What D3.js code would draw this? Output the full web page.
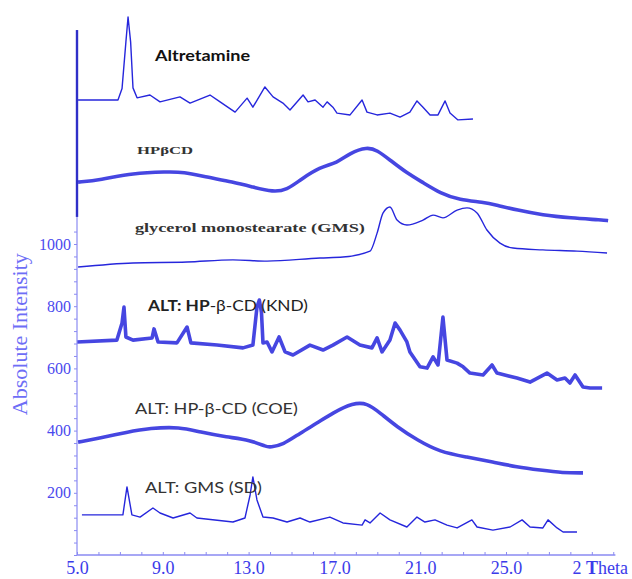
<!DOCTYPE html>
<html>
<head>
<meta charset="utf-8">
<script src="https://cdn.jsdelivr.net/npm/d3@7/dist/d3.min.js"></script>
<style>
  body { margin: 0; background: #fff; }
  svg { display: block; }
</style>
</head>
<body>
<div id="chart"></div>
<script>
// XRD patterns, [2 theta, intensity] (offset stacking kept as drawn)
const altretamine = [[5.05,1463],[6.91,1463],[7.10,1500],[7.28,1650],[7.38,1730],[7.50,1650],[7.61,1502],[7.80,1470],[8.40,1479],[8.87,1457],[9.80,1473],[10.27,1453],[11.20,1479],[11.67,1457],[12.37,1424],[12.93,1469],[13.20,1440],[13.76,1505],[14.14,1473],[14.60,1453],[14.93,1431],[15.54,1479],[15.77,1457],[16.10,1463],[16.47,1440],[16.66,1457],[16.93,1440],[17.12,1421],[17.73,1415],[18.29,1463],[18.52,1424],[18.99,1415],[19.59,1421],[20.06,1408],[20.52,1424],[20.85,1460],[21.13,1440],[21.46,1415],[21.83,1415],[22.16,1460],[22.39,1421],[22.76,1399],[23.46,1402]];
const hpbcd = [[5.05,1199],[6.07,1206],[7.61,1228],[9.20,1232],[9.94,1232],[11.06,1215],[12.27,1199],[13.20,1183],[14.14,1167],[14.79,1174],[15.40,1206],[16.33,1248],[17.12,1260],[17.73,1293],[18.52,1312],[18.99,1302],[19.59,1270],[20.38,1228],[21.17,1196],[21.92,1164],[22.85,1141],[23.93,1135],[24.58,1125],[25.51,1109],[26.72,1093],[27.98,1084],[29.52,1077],[29.76,1075]];
const gms = [[5.05,926],[7.61,939],[10.13,942],[12.27,949],[13.86,945],[16.33,955],[17.40,958],[18.66,977],[18.99,1035],[19.27,1100],[19.59,1119],[19.92,1077],[20.38,1061],[21.13,1077],[21.60,1093],[22.06,1084],[22.72,1109],[23.18,1116],[23.65,1100],[24.11,1045],[24.72,1003],[25.33,987],[26.72,981],[28.31,977],[29.71,971]];
const knd = [[5.0,685],[6.86,691],[7.10,746],[7.19,797],[7.28,701],[7.61,691],[8.50,698],[8.59,727],[8.78,685],[9.66,682],[10.13,733],[10.31,682],[11.53,675],[12.74,666],[13.20,675],[13.39,797],[13.50,820],[13.60,780],[13.67,682],[13.86,685],[14.09,653],[14.42,701],[14.70,653],[15.07,643],[15.86,675],[16.47,659],[16.93,675],[17.59,701],[18.19,675],[18.75,666],[18.99,698],[19.22,653],[19.59,691],[19.83,746],[20.06,723],[20.38,685],[20.52,653],[20.99,605],[21.32,601],[21.60,637],[21.83,611],[22.06,765],[22.25,627],[22.72,617],[23.0,605],[23.32,585],[23.93,579],[24.35,611],[24.58,585],[25.51,569],[26.12,556],[26.91,585],[27.38,563],[27.75,569],[27.98,553],[28.22,579],[28.59,540],[28.92,537],[29.48,537]];
const coe = [[5.05,363],[6.07,376],[7.33,395],[8.40,408],[9.80,412],[10.73,395],[11.99,379],[13.07,370],[13.86,347],[14.0,347],[14.60,354],[15.40,392],[16.19,424],[16.93,457],[17.87,489],[18.52,489],[19.13,457],[19.92,412],[20.85,370],[21.92,331],[23.18,315],[24.39,299],[25.51,283],[26.59,273],[27.66,264],[28.59,264]];
const sd = [[5.23,129],[7.14,129],[7.33,219],[7.56,129],[7.94,122],[8.54,151],[8.87,135],[9.48,119],[10.27,135],[10.59,119],[12.27,106],[12.83,119],[13.07,193],[13.20,251],[13.39,177],[13.67,122],[14.14,119],[14.79,106],[15.40,119],[15.86,106],[16.79,122],[17.40,103],[18.29,96],[18.43,113],[18.66,103],[19.13,135],[19.59,113],[20.38,90],[20.85,122],[21.22,106],[21.69,113],[22.25,96],[22.72,87],[23.41,113],[23.65,90],[24.39,80],[25.19,90],[25.75,113],[26.12,90],[26.72,87],[26.96,113],[27.38,87],[27.66,74],[28.31,74]];

const xTickLabels = [5, 9, 13, 17, 21, 25];
const yTickLabels = [200, 400, 600, 800, 1000];

// series drawn, noisy ones get a fat stroke, broad humps get smoothed
const series = [
  { data: altretamine, noisy: false, curve: d3.curveLinear },
  { data: hpbcd, noisy: true, curve: d3.curveBasis },
  { data: gms, noisy: false, curve: d3.curveMonotoneX },
  { data: knd, noisy: true, curve: d3.curveLinear },
  { data: coe, noisy: true, curve: d3.curveBasis },
  { data: sd, noisy: false, curve: d3.curveLinear }
];

// trace names, anchored in data units (left edge, baseline)
const labels = [
  { text: "Altretamine", t: 8.64, i: 1588, w: 95, font: "Lato, sans-serif", size: 15.5, weight: "bold", color: "#111" },
  { text: "HPβCD", t: 7.80, i: 1289, w: 56, font: "'Liberation Serif', serif", size: 10.5, weight: "bold", color: "#333" },
  { text: "glycerol monostearate (GMS)", t: 7.70, i: 1039, w: 230, font: "'Liberation Serif', serif", size: 12.5, weight: "bold", color: "#333" },
  { text: "ALT: HP", rest: "-β-CD (KND)", t: 8.31, i: 785, w: 160, font: "Lato, sans-serif", size: 16, weight: "bold", color: "#222" },
  { text: "ALT: HP-β-CD (COE)", t: 7.70, i: 453, w: 163, font: "Lato, sans-serif", size: 16, weight: "normal", color: "#333" },
  { text: "ALT: GMS (SD)", t: 8.17, i: 199, w: 117, font: "Lato, sans-serif", size: 16, weight: "normal", color: "#333" }
];

const width = 632, height = 579;
const x = d3.scaleLinear().domain([5, 25]).range([77, 506]);
const y = d3.scaleLinear().domain([0, 1000]).range([555, 244]);

const svg = d3.select("#chart").append("svg")
  .attr("width", width)
  .attr("height", height);

const lineColor = "#2626dc";

series.forEach(s => {
  const line = d3.line().curve(s.curve).x(d => x(d[0])).y(d => y(d[1]));
  svg.append("path")
    .datum(s.data)
    .attr("fill", "none")
    .attr("stroke", lineColor)
    .attr("stroke-opacity", s.noisy ? 0.85 : 1)
    .attr("stroke-width", s.noisy ? 3.6 : 1.4)
    .attr("stroke-linejoin", "round")
    .attr("d", line);
});

// x axis: small upward ticks each degree
const xAxis = d3.axisBottom(x)
  .tickValues(d3.range(5, 31, 1))
  .tickSize(-3)
  .tickPadding(6)
  .tickFormat(d => xTickLabels.includes(d) ? d.toFixed(1) : "");

const gx = svg.append("g")
  .attr("transform", `translate(0,${y(0)})`)
  .call(xAxis);
gx.select(".domain").remove();
gx.selectAll(".tick line").attr("stroke", "#8a8af2");
gx.selectAll(".tick text")
  .attr("fill", "#3b3bea")
  .style("font-family", "'Liberation Serif', serif")
  .style("font-size", "18px");

svg.append("line")
  .attr("x1", x(5)).attr("x2", x(30.1))
  .attr("y1", y(0)).attr("y2", y(0))
  .attr("stroke", "#8a8af2").attr("stroke-width", 1.5);

const theta = svg.append("text")
  .attr("x", width - 4)
  .attr("y", y(0) + 19)
  .attr("text-anchor", "end")
  .attr("fill", "#3b3bea")
  .style("font-family", "'Liberation Serif', serif")
  .style("font-size", "18px");
theta.append("tspan").text("2 ");
theta.append("tspan").attr("font-weight", "bold").text("T");
theta.append("tspan").text("heta");

// y axis
const yAxis = d3.axisLeft(y)
  .tickValues(d3.range(0, 1041, 40))
  .tickSize(3)
  .tickPadding(3)
  .tickFormat(d => yTickLabels.includes(d) ? d : "");

const gy = svg.append("g")
  .attr("transform", `translate(${x(5)},0)`)
  .call(yAxis);
gy.select(".domain").remove();
gy.selectAll(".tick line").attr("stroke", "#8a8af2");
gy.selectAll(".tick text")
  .attr("fill", "#4a4aee")
  .style("font-family", "'Liberation Serif', serif")
  .style("font-size", "16px");

svg.append("line")
  .attr("x1", x(5)).attr("x2", x(5))
  .attr("y1", y(0)).attr("y2", y(1087))
  .attr("stroke", "#8a8af2").attr("stroke-width", 1.2);
svg.append("line")
  .attr("x1", x(5)).attr("x2", x(5))
  .attr("y1", y(1087)).attr("y2", y(1688))
  .attr("stroke", "#2f2fc8").attr("stroke-width", 2.4);

svg.append("text")
  .attr("transform", `translate(27,${y(710)}) rotate(-90)`)
  .attr("text-anchor", "middle")
  .attr("fill", "#6e6ef6")
  .style("font-family", "'Liberation Serif', serif")
  .style("font-size", "22px")
  .text("Absolute Intensity");

// trace labels
labels.forEach(l => {
  const t = svg.append("text")
    .attr("x", x(l.t))
    .attr("y", y(l.i))
    .attr("fill", l.color)
    .attr("textLength", l.w)
    .attr("lengthAdjust", "spacingAndGlyphs")
    .style("font-family", l.font)
    .style("font-size", l.size + "px");
  t.append("tspan").attr("font-weight", l.weight).text(l.text);
  if (l.rest) t.append("tspan").attr("font-weight", "normal").text(l.rest);
});
</script>
</body>
</html>
